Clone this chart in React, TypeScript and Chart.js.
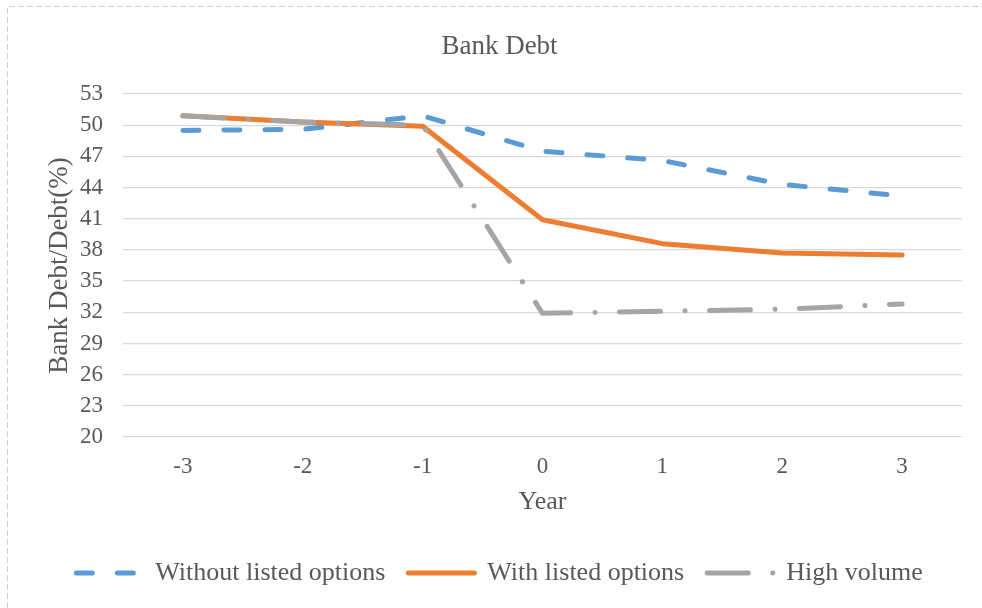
import { useEffect, useRef } from "react";
import { Chart, registerables } from "chart.js";

Chart.register(...registerables);

// Event years around the listing
const years = ["-3", "-2", "-1", "0", "1", "2", "3"];

// Bank debt as a share of total debt (%)
const withoutListedOptions = [49.5, 49.6, 50.9, 47.5, 46.6, 44.3, 43.2];
const withListedOptions = [50.9, 50.3, 49.9, 40.9, 38.6, 37.7, 37.5];
const highVolume = [50.9, 50.3, 50.0, 31.9, 32.1, 32.3, 32.8];

// Value axis range
const yMin = 20;
const yMax = 53;
const yStep = 3;

const FONT = "'Liberation Serif', 'Times New Roman', serif";
const TEXT = "#595959";

export default function App() {
  const canvasRef = useRef<HTMLCanvasElement | null>(null);

  useEffect(() => {
    const canvas = canvasRef.current;
    if (!canvas) return;
    const defaultLabels = Chart.defaults.plugins.legend.labels.generateLabels;
    const chart = new Chart(canvas, {
      type: "line",
      data: {
        labels: years,
        datasets: [
          {
            label: "Without listed options",
            data: withoutListedOptions,
            borderColor: "#5B9BD5",
            backgroundColor: "#5B9BD5",
            borderWidth: 5,
            borderDash: [16, 25],
            borderCapStyle: "round",
            borderJoinStyle: "round",
            pointRadius: 0,
            tension: 0,
            order: 2,
          },
          {
            label: "With listed options",
            data: withListedOptions,
            borderColor: "#ED7D31",
            backgroundColor: "#ED7D31",
            borderWidth: 5,
            borderCapStyle: "round",
            borderJoinStyle: "round",
            pointRadius: 0,
            tension: 0,
            order: 1,
          },
          {
            label: "High volume",
            data: highVolume,
            borderColor: "#A5A5A5",
            backgroundColor: "#A5A5A5",
            borderWidth: 5,
            borderDash: [41, 24.5, 0.1, 24.4],
            borderCapStyle: "round",
            borderJoinStyle: "round",
            pointRadius: 0,
            tension: 0,
            order: 0,
          },
        ],
      },
      options: {
        responsive: false,
        animation: false,
        events: [],
        layout: { padding: { left: 37, right: 20, top: 0, bottom: 12 } },
        scales: {
          x: {
            offset: true,
            grid: { display: false, drawTicks: false },
            border: { display: false },
            ticks: { color: TEXT, font: { family: FONT, size: 23 }, padding: 16 },
            title: {
              display: true,
              text: "Year",
              color: TEXT,
              font: { family: FONT, size: 26 },
              padding: { top: 0, bottom: 19.4 },
            },
            afterFit: (scale: any) => {
              scale.height = 100;
            },
          },
          y: {
            min: yMin,
            max: yMax,
            ticks: {
              stepSize: yStep,
              color: TEXT,
              font: { family: FONT, size: 23 },
              padding: 20,
            },
            grid: { color: "#d9d9d9", lineWidth: 1.3, drawTicks: false },
            border: { display: false },
            title: {
              display: true,
              text: "Bank Debt/Debt(%)",
              color: TEXT,
              font: { family: FONT, size: 27 },
              padding: { top: 7, bottom: 0 },
            },
            afterFit: (scale: any) => {
              scale.width = 86;
            },
          },
        },
        plugins: {
          title: {
            display: true,
            text: "Bank Debt",
            color: TEXT,
            font: { family: FONT, size: 27, weight: "normal" },
            padding: { top: 31, bottom: 30.6 },
          },
          legend: {
            position: "bottom",
            labels: {
              usePointStyle: true,
              pointStyle: "line",
              pointStyleWidth: 66,
              padding: 23,
              color: TEXT,
              font: { family: FONT, size: 26 },
              sort: (a: any, b: any) => a.datasetIndex - b.datasetIndex,
              // legend swatches carry each series' own dash pattern
              generateLabels: (c: any) =>
                defaultLabels(c).map((item: any) => {
                  const ds: any = c.data.datasets[item.datasetIndex];
                  return {
                    ...item,
                    lineDash: ds.borderDash || [],
                    lineCap: "round",
                    lineWidth: 5,
                    strokeStyle: ds.borderColor,
                  };
                }),
            },
          },
          tooltip: { enabled: false },
        },
      },
    });
    return () => chart.destroy();
  }, []);

  return (
    <>
      <canvas
        ref={canvasRef}
        width={982}
        height={608}
        style={{ position: "fixed", left: 0, top: 0, width: 982, height: 608, background: "#fff" }}
      />
      {/* dashed frame around the chart area */}
      <svg
        width={982}
        height={608}
        style={{ position: "fixed", left: 0, top: 0, pointerEvents: "none" }}
      >
        <path
          d="M7.5 608 V6.5 H982"
          fill="none"
          stroke="#d0d0d0"
          strokeWidth={1}
          strokeDasharray="6 3"
        />
      </svg>
    </>
  );
}
